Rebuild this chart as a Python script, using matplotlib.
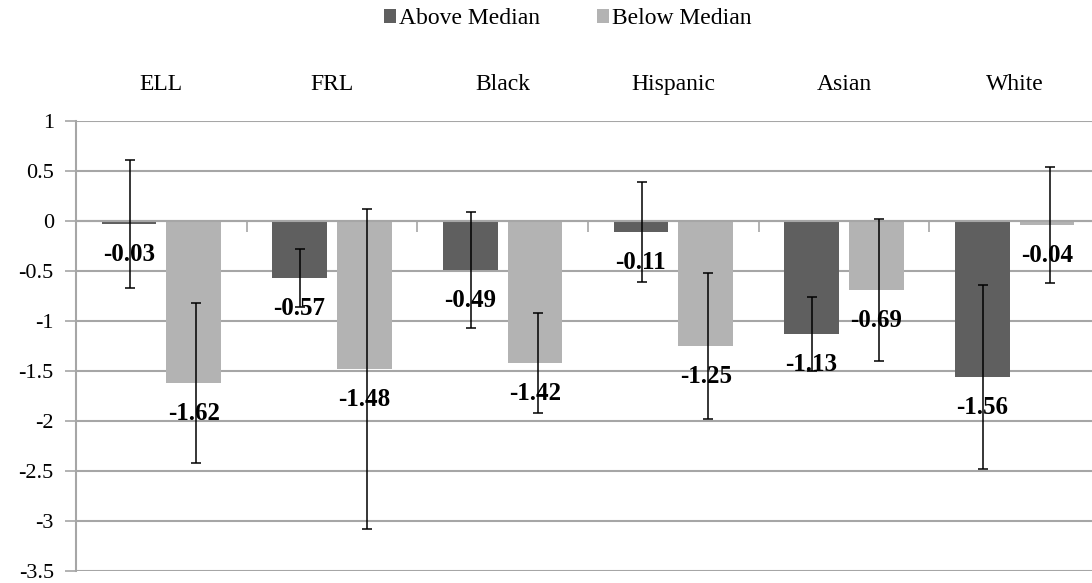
import numpy as np
import matplotlib.pyplot as plt

plt.rcParams['font.family'] = ['Liberation Serif', 'DejaVu Serif']

# group labels and series
groups = ['ELL', 'FRL', 'Black', 'Hispanic', 'Asian', 'White']
above = [-0.03, -0.57, -0.49, -0.11, -1.13, -1.56]
below = [-1.62, -1.48, -1.42, -1.25, -0.69, -0.04]
above_err = [0.64, 0.29, 0.58, 0.50, 0.37, 0.92]
below_err = [0.80, 1.60, 0.50, 0.73, 0.71, 0.58]

dark = '#5f5f5f'
light = '#b3b3b3'
grid_col = '#a6a6a6'

W, H = 1092, 583
fig = plt.figure(figsize=(W / 100, H / 100), dpi=100)
# plot area runs off the right edge a little
ax = fig.add_axes([76 / W, 12 / H, 1024 / W, 450 / H])

x = np.arange(len(groups))
off = 0.19
bw = 0.32

b1 = ax.bar(x - off, above, bw, color=dark, zorder=2, label='Above Median')
b2 = ax.bar(x + off, below, bw, color=light, zorder=2, label='Below Median')

ekw = dict(fmt='none', ecolor='black', elinewidth=1.1, capsize=3.6,
           capthick=1.1, zorder=4)
ax.errorbar(x - off + 0.005, above, yerr=above_err, **ekw)
ax.errorbar(x + off + 0.015, below, yerr=below_err, **ekw)

# value labels just under the end of each bar
for xs, vals in ((x - off, above), (x + off, below)):
    for xi, v in zip(xs, vals):
        ax.annotate('%.2f' % v, (xi, v), xytext=(0, -22),
                    textcoords='offset points', ha='center', va='center',
                    fontsize=18, fontweight='bold', color='black', zorder=5)

ax.set_xlim(-0.5, len(groups) - 0.5)
ax.set_ylim(-3.5, 1)
ax.set_yticks(np.arange(-3.5, 1.01, 0.5))
ax.set_yticklabels(['%g' % t for t in np.arange(-3.5, 1.01, 0.5)])
ax.yaxis.grid(True, color=grid_col, linewidth=1.5, zorder=0)
ax.set_axisbelow(True)

# category axis sits at zero, ticks at group boundaries
ax.spines['bottom'].set_position(('data', 0))
ax.spines['bottom'].set_color(grid_col)
ax.spines['bottom'].set_linewidth(1.5)
ax.set_xticks(np.arange(len(groups) + 1) - 0.5)
ax.set_xticklabels([])
ax.tick_params(axis='x', direction='out', length=8, width=1.2, color=grid_col)
ax.spines['left'].set_color(grid_col)
ax.spines['left'].set_linewidth(1.5)
ax.tick_params(axis='y', length=8, width=1.2, color=grid_col,
               labelsize=16, pad=8)
for s in ('top', 'right'):
    ax.spines[s].set_visible(False)

# group names above the plot area
for xi, g in zip(x, groups):
    ax.text(xi, 1 + 36 / 450, g, transform=ax.get_xaxis_transform(),
            ha='center', va='center', fontsize=17, color='black')

fig.legend(handles=[b1, b2], loc='center', ncol=2,
           bbox_to_anchor=(568 / W, 1 - 19 / H), frameon=False,
           fontsize=17, handlelength=0.5, handleheight=0.5,
           handletextpad=0.15, columnspacing=2.4)

fig.savefig('out.png', dpi=100)
